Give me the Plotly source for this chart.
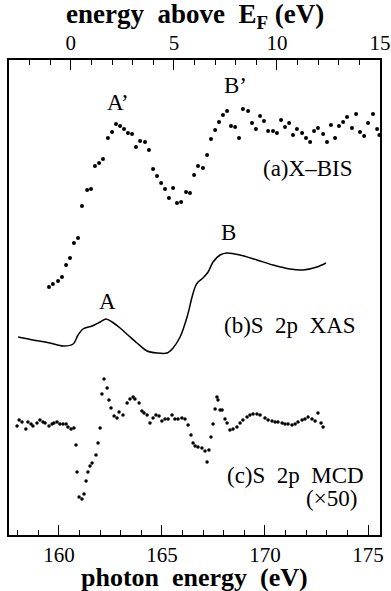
import plotly.graph_objects as go

# (a) X-BIS : energy above E_F (eV) vs intensity (arb. units)
xbis_e = [-1.06, -0.87, -0.62, -0.43, -0.23, -0.04, 0.15, 0.35, 0.54, 0.79,
          0.98, 1.17, 1.37, 1.56, 1.80, 2.00, 2.19, 2.39, 2.58, 2.77,
          2.97, 3.16, 3.36, 3.60, 3.79, 3.99, 4.18, 4.38, 4.57, 4.76,
          4.96, 5.15, 5.35, 5.59, 5.78, 5.98, 6.17, 6.41, 6.61, 6.80,
          7.00, 7.19, 7.38, 7.58, 7.77, 7.97, 8.16, 8.35, 8.60, 8.79,
          8.98, 9.18, 9.37, 9.57, 9.81, 10.00, 10.20, 10.39, 10.59, 10.78,
          10.97, 11.22, 11.41, 11.61, 11.80, 11.99, 12.24, 12.43, 12.62, 12.82,
          13.01, 13.21, 13.40, 13.64, 13.84, 14.03, 14.23, 14.42, 14.66, 14.86,
          14.97]
xbis_i = [248, 251, 254, 258, 270, 277, 292, 297, 329, 345,
          346, 369, 372, 376, 397, 403, 411, 409, 406, 402,
          401, 388, 394, 393, 385, 366, 359, 352, 346, 337,
          347, 332, 333, 343, 342, 360, 369, 367, 380, 396,
          405, 413, 420, 424, 409, 408, 397, 426, 424, 412,
          406, 419, 414, 404, 404, 402, 415, 408, 412, 400,
          406, 402, 397, 393, 404, 407, 401, 393, 410, 397,
          409, 413, 418, 407, 421, 403, 399, 412, 421, 406,
          400]

# (b) S 2p XAS : photon energy (eV) vs intensity (arb. units)
xas_e = [158.02, 158.74, 159.57, 160.20, 160.69, 160.93, 161.17, 161.61, 162.00, 162.29,
         162.58, 162.97, 163.35, 163.79, 164.28, 164.76, 165.25, 165.54, 165.88, 166.22,
         166.46, 166.61, 166.75, 166.99, 167.24, 167.48, 167.82, 168.16, 168.79, 169.61,
         170.39, 171.21, 171.85, 172.52, 172.96]
xas_i = [198, 195, 192, 189, 191, 200, 206, 209, 213, 216,
         213, 207, 200, 192, 184, 182, 182, 187, 198, 218,
         238, 248, 253, 257, 263, 273, 280, 282, 280, 275,
         270, 266, 265, 268, 272]

# (c) S 2p MCD (x50) : photon energy (eV) vs intensity (arb. units)
mcd_e = [157.97, 158.07, 158.21, 158.40, 158.50, 158.65, 158.74, 158.94, 159.08, 159.23,
         159.33, 159.52, 159.67, 159.76, 159.91, 160.05, 160.20, 160.35, 160.44, 160.59,
         160.73, 160.83, 160.88, 160.98, 161.12, 161.22, 161.32, 161.41, 161.51, 161.61,
         161.80, 161.90, 162.00, 162.09, 162.19, 162.34, 162.43, 162.53, 162.68, 162.82,
         162.92, 163.11, 163.31, 163.45, 163.60, 163.69, 163.89, 164.03, 164.13, 164.28,
         164.42, 164.57, 164.71, 164.86, 165.00, 165.15, 165.30, 165.49, 165.63, 165.78,
         165.97, 166.12, 166.27, 166.41, 166.51, 166.61, 166.75, 166.94, 167.09, 167.19,
         167.28, 167.38, 167.48, 167.58, 167.67, 167.72, 167.82, 167.92, 168.06, 168.16,
         168.30, 168.45, 168.64, 168.79, 168.93, 169.13, 169.27, 169.42, 169.61, 169.76,
         170.00, 170.15, 170.34, 170.49, 170.63, 170.83, 170.97, 171.12, 171.31, 171.46,
         171.60, 171.80, 171.94, 172.09, 172.28, 172.43, 172.57, 172.72, 172.82]
mcd_i = [109, 115, 113, 106, 113, 111, 109, 112, 115, 113,
         112, 109, 111, 112, 113, 111, 111, 111, 108, 106,
         107, 90, 63, 38, 36, 41, 54, 63, 69, 72,
         80, 92, 107, 141, 156, 147, 135, 127, 119, 117,
         123, 120, 132, 136, 138, 136, 132, 124, 122, 120,
         112, 117, 120, 119, 114, 116, 116, 120, 116, 116,
         117, 116, 110, 100, 92, 89, 88, 87, 84, 73,
         85, 98, 111, 126, 138, 135, 125, 125, 116, 112,
         105, 106, 108, 112, 115, 118, 120, 121, 121, 120,
         117, 115, 114, 113, 113, 112, 111, 111, 110, 111,
         113, 115, 116, 118, 116, 114, 122, 112, 108]

photon_ticks = [160, 165, 170, 175]
ef_ticks = [0, 5, 10, 15]

labels = ["A\u2019", "B\u2019", "(a)X\u2013BIS", "A", "B", "(b)S\u00a0\u00a02p\u00a0\u00a0XAS",
          "(c)S\u00a0\u00a02p\u00a0\u00a0MCD", "(\u00d750)"]
label_e = [162.87, 168.55, 172.04, 162.38, 168.21, 171.21, 171.50, 173.25]
label_i = [433, 450, 367, 234, 303, 210, 60, 37]

FONT = "Liberation Serif"

fig = go.Figure()
fig.add_trace(go.Scatter(x=xbis_e, y=xbis_i, xaxis="x2", yaxis="y", mode="markers",
                         marker=dict(color="black", size=4), cliponaxis=False))
fig.add_trace(go.Scatter(x=xas_e, y=xas_i, mode="lines",
                         line=dict(color="black", width=1.5, shape="spline", smoothing=0.8)))
fig.add_trace(go.Scatter(x=mcd_e, y=mcd_i, mode="markers",
                         marker=dict(color="black", size=3.5)))

for t, xe, yi in zip(labels, label_e, label_i):
    fig.add_annotation(x=xe, y=yi, xref="x", yref="y", text=t, showarrow=False,
                       font=dict(family=FONT, size=23, color="black"))

# axis titles
fig.add_annotation(x=0.5, y=0, xref="paper", yref="paper", yshift=-42, yanchor="middle",
                   text="<b>photon\u00a0\u00a0energy\u00a0\u00a0(eV)</b>", showarrow=False,
                   font=dict(family=FONT, size=26, color="black"))
fig.add_annotation(x=0.5, y=1, xref="paper", yref="paper", yshift=44, yanchor="middle",
                   text="<b>energy\u00a0\u00a0above\u00a0\u00a0E<sub>F</sub>\u00a0(eV)</b>", showarrow=False,
                   font=dict(family=FONT, size=27, color="black"))

fig.update_layout(
    width=391, height=591,
    margin=dict(l=9, r=11, t=60, b=56),
    paper_bgcolor="white", plot_bgcolor="white",
    showlegend=False,
    font=dict(family=FONT, color="black"),
    xaxis=dict(range=[157.58, 175.58], tickvals=photon_ticks, ticks="inside", ticklen=10,
               tickwidth=1.2, tickcolor="black", showline=True, linecolor="black", linewidth=1.5,
               showgrid=False, zeroline=False, mirror=False, automargin=False,
               minor=dict(dtick=1, tick0=160, ticks="inside", ticklen=5, tickcolor="black", tickwidth=1),
               tickfont=dict(family=FONT, size=21)),
    xaxis2=dict(range=[-3, 15], overlaying="x", side="top", tickvals=ef_ticks, ticks="inside",
                ticklen=10, tickwidth=1.2, tickcolor="black", showline=True, linecolor="black",
                linewidth=1.5, showgrid=False, zeroline=False, automargin=False,
                minor=dict(dtick=1, tick0=0, ticks="inside", ticklen=5, tickcolor="black", tickwidth=1),
                tickfont=dict(family=FONT, size=21)),
    yaxis=dict(range=[0, 475], showticklabels=False, ticks="", showgrid=False, zeroline=False,
               showline=True, linecolor="black", linewidth=1.5, mirror=True, automargin=False),
)

fig.write_html("out.html", config={"displayModeBar": False},
               post_script="document.body.style.margin='0';")
